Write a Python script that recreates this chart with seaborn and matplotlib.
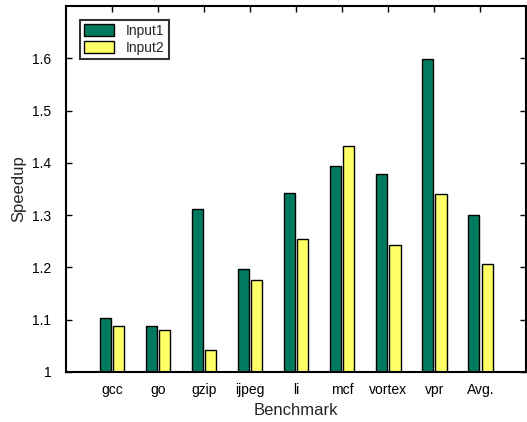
import matplotlib
matplotlib.use("Agg")
import matplotlib.pyplot as plt
import seaborn as sns
import pandas as pd

# speedup per benchmark
benchmarks = ["gcc", "go", "gzip", "ijpeg", "li", "mcf", "vortex", "vpr", "Avg."]
input1 = [1.103, 1.088, 1.311, 1.196, 1.342, 1.394, 1.379, 1.598, 1.301]
input2 = [1.088, 1.080, 1.042, 1.175, 1.254, 1.433, 1.243, 1.341, 1.207]

df = pd.DataFrame({
    "Benchmark": benchmarks * 2,
    "Speedup": input1 + input2,
    "Input": ["Input1"] * len(benchmarks) + ["Input2"] * len(benchmarks),
})

sns.set_style("ticks")
plt.rcParams["font.family"] = ["Liberation Sans", "DejaVu Sans"]

fig = plt.figure(figsize=(5.27, 4.22), dpi=100)
ax = fig.add_axes([0.125, 0.1185, 0.874, 0.8675])

sns.barplot(data=df, x="Benchmark", y="Speedup", hue="Input",
            palette=["#007a5e", "#ffff66"], width=0.58, gap=0.17,
            edgecolor="black", linewidth=1.0, ax=ax, saturation=1)

ax.set_ylim(1, 1.7)
ax.set_xlim(-1, 9)
ax.set_yticks([1, 1.1, 1.2, 1.3, 1.4, 1.5, 1.6])
ax.set_yticklabels(["1", "1.1", "1.2", "1.3", "1.4", "1.5", "1.6"])
ax.tick_params(direction="in", top=True, right=True, labelsize=10,
               length=4, width=1, colors="black")
ax.tick_params(axis="y", pad=10.5)
ax.tick_params(axis="x", bottom=False, pad=8)
ax.set_xlabel("Benchmark", fontsize=12)
ax.set_ylabel("Speedup", fontsize=12)
for s in ax.spines.values():
    s.set_linewidth(1.5)
    s.set_color("black")

leg = ax.legend(loc="upper left", fontsize=10, frameon=True, fancybox=False,
                edgecolor="black", borderpad=0.3, handlelength=2.2,
                handleheight=1.0, labelspacing=0.2, borderaxespad=1.0)
leg.get_frame().set_linewidth(1.5)

fig.savefig("out.png", dpi=100)
